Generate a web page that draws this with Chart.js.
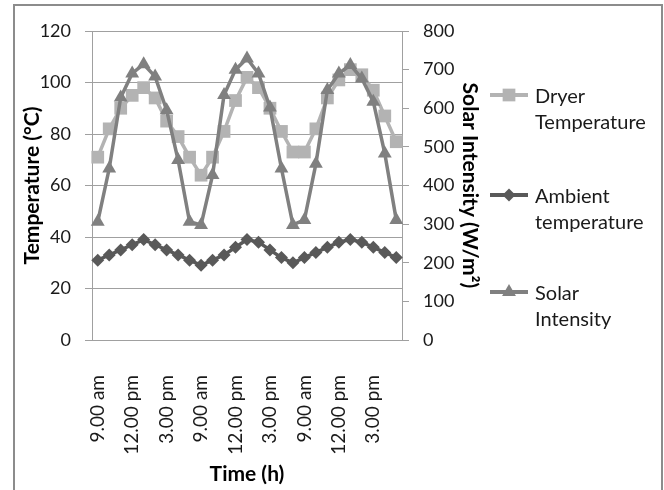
<!DOCTYPE html>
<html>
<head>
<meta charset="utf-8">
<script src="https://cdn.jsdelivr.net/npm/chart.js@4/dist/chart.umd.min.js"></script>
<style>
    body { margin: 0; background: #fff; }
    #wrap { position: relative; width: 664px; height: 490px; overflow: hidden; }
    #frame { position: absolute; left: 13px; top: 4px; width: 646px; height: 520px; border: 2px solid #8c8c8c; }
    #chart { position: absolute; left: 0; top: 0; }
</style>
</head>
<body>
<div id="wrap">
    <div id="frame"></div>
    <canvas id="chart" width="664" height="490"></canvas>
</div>
<script>
// hourly readings, 9 am to 5 pm, three days
const hours = ['9.00 am', '10.00 am', '11.00 am', '12.00 pm', '1.00 pm', '2.00 pm', '3.00 pm', '4.00 pm', '5.00 pm'];
const timeLabels = [...hours, ...hours, ...hours];

const dryerTemp = [71, 82, 90, 95, 98, 94, 85, 79, 71, 64, 71, 81, 93, 102, 98, 90, 81, 73, 73, 82, 94, 101, 105, 103, 97, 87, 77];
const ambientTemp = [31, 33, 35, 37, 39, 37, 35, 33, 31, 29, 31, 33, 36, 39, 38, 35, 32, 30, 32, 34, 36, 38, 39, 38, 36, 34, 32];
const solarIntensity = [306, 444, 628, 690, 714, 682, 595, 466, 306, 298, 427, 634, 700, 729, 690, 602, 444, 298, 311, 456, 647, 690, 712, 677, 617, 483, 311];

const tempTicks = { min: 0, max: 120, step: 20 };
const solarTicks = { min: 0, max: 800, step: 100 };

const legendNames = [['Dryer', 'Temperature'], ['Ambient', 'temperature'], ['Solar', 'Intensity']];

const FONT = 'Lato, "Open Sans", sans-serif';

// draw a marker shape (used by the legend)
function marker(ctx, style, x, y, r, color) {
    ctx.fillStyle = color;
    ctx.beginPath();
    if (style === 'rect') {
        const s = Math.SQRT1_2 * r;
        ctx.rect(x - s, y - s, 2 * s, 2 * s);
    } else if (style === 'rectRot') {
        ctx.moveTo(x, y - r);
        ctx.lineTo(x + r, y);
        ctx.lineTo(x, y + r);
        ctx.lineTo(x - r, y);
        ctx.closePath();
    } else {
        const h = r * 1.5;
        const w = r * Math.sqrt(3) / 2;
        ctx.moveTo(x, y - r);
        ctx.lineTo(x + w, y + r / 2);
        ctx.lineTo(x - w, y + r / 2);
        ctx.closePath();
    }
    ctx.fill();
}

// legend with two-line labels on the right
const sideLegend = {
    id: 'sideLegend',
    afterDraw(chart) {
        const ctx = chart.ctx;
        const rows = [95, 195, 292];
        ctx.save();
        chart.data.datasets.forEach((ds, i) => {
            const y = rows[i];
            ctx.strokeStyle = ds.borderColor;
            ctx.lineWidth = 4;
            ctx.beginPath();
            ctx.moveTo(490, y);
            ctx.lineTo(528, y);
            ctx.stroke();
            marker(ctx, ds.pointStyle, 509, y, ds.pointRadius, ds.pointBackgroundColor);
            ctx.fillStyle = '#1a1a1a';
            ctx.font = '20px ' + FONT;
            ctx.textBaseline = 'middle';
            ctx.textAlign = 'left';
            legendNames[i].forEach((line, j) => {
                ctx.fillText(line, 535, y + 2 + j * 26);
            });
        });
        ctx.restore();
    }
};

new Chart(document.getElementById('chart'), {
    type: 'line',
    data: {
        labels: timeLabels,
        datasets: [{
            label: 'Dryer Temperature',
            data: dryerTemp,
            yAxisID: 'yTemp',
            borderColor: '#b3b3b3',
            backgroundColor: '#b3b3b3',
            pointBackgroundColor: '#b3b3b3',
            pointBorderWidth: 0,
            pointStyle: 'rect',
            pointRadius: 9,
            borderWidth: 3.5,
            order: 3
        }, {
            label: 'Ambient temperature',
            data: ambientTemp,
            yAxisID: 'yTemp',
            borderColor: '#595959',
            backgroundColor: '#595959',
            pointBackgroundColor: '#595959',
            pointBorderWidth: 0,
            pointStyle: 'rectRot',
            pointRadius: 6.5,
            borderWidth: 3.5,
            order: 2
        }, {
            label: 'Solar Intensity',
            data: solarIntensity,
            yAxisID: 'ySolar',
            borderColor: '#808080',
            backgroundColor: '#808080',
            pointBackgroundColor: '#808080',
            pointBorderWidth: 0,
            pointStyle: 'triangle',
            pointRadius: 8,
            borderWidth: 3.5,
            order: 1
        }]
    },
    options: {
        responsive: false,
        animation: false,
        layout: { padding: { left: 0, top: 31, right: 182, bottom: 0 } },
        plugins: {
            legend: { display: false },
            tooltip: { enabled: false }
        },
        scales: {
            x: {
                offset: true,
                grid: { display: false },
                border: { display: false },
                ticks: {
                    autoSkip: false,
                    maxRotation: 90,
                    minRotation: 90,
                    padding: 27,
                    color: '#1a1a1a',
                    font: { family: FONT, size: 19 },
                    callback: (val, idx) => idx % 3 === 0 ? timeLabels[idx] : ''
                },
                title: {
                    display: true,
                    text: 'Time (h)',
                    color: '#000',
                    padding: { bottom: 3 },
                    font: { family: FONT, size: 21, weight: 'bold' }
                },
                afterFit: (scale) => { scale.height = 150; }
            },
            yTemp: {
                position: 'left',
                min: tempTicks.min,
                max: tempTicks.max,
                ticks: {
                    stepSize: tempTicks.step,
                    padding: 14,
                    color: '#1a1a1a',
                    font: { family: FONT, size: 18 }
                },
                grid: { color: '#a0a0a0', lineWidth: 1, tickLength: 7 },
                border: { display: true, color: '#a0a0a0', width: 1 },
                title: {
                    display: true,
                    text: 'Temperature (°C)',
                    color: '#000',
                    padding: { top: 20 },
                    font: { family: FONT, size: 21, weight: 'bold' }
                },
                afterFit: (scale) => { scale.width = 92; }
            },
            ySolar: {
                position: 'right',
                min: solarTicks.min,
                max: solarTicks.max,
                ticks: {
                    stepSize: solarTicks.step,
                    padding: 14,
                    color: '#1a1a1a',
                    font: { family: FONT, size: 18 }
                },
                grid: { drawOnChartArea: false, color: '#a0a0a0', lineWidth: 1, tickLength: 7 },
                border: { display: true, color: '#a0a0a0', width: 1 },
                title: {
                    display: true,
                    text: 'Solar Intensity (W/m²)',
                    color: '#000',
                    padding: { top: 0 },
                    font: { family: FONT, size: 21, weight: 'bold' }
                },
                afterFit: (scale) => { scale.width = 80; }
            }
        }
    },
    plugins: [sideLegend]
});
</script>
</body>
</html>
